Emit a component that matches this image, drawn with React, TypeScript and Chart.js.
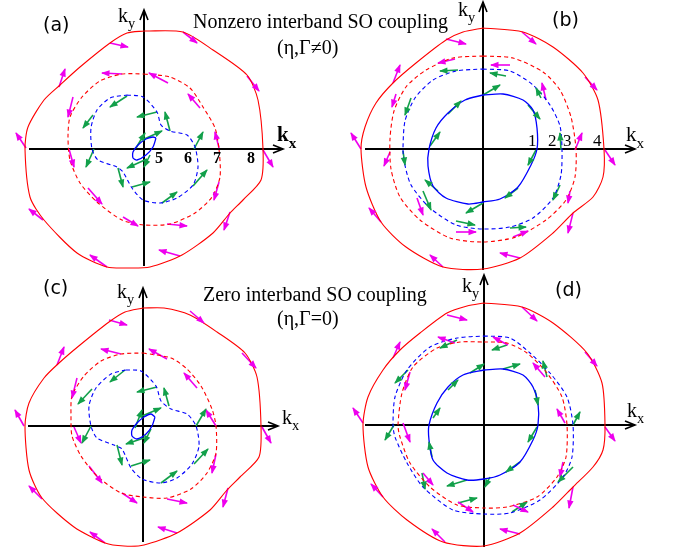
import React, { useEffect, useRef } from 'react';
import { Chart, registerables } from 'chart.js';
Chart.register(...registerables);

type P = [number, number];
type A = [number, number, number, number];

const W = 676;
const H = 553;
const PX_PER_UNIT = 100;

// ---------- Panel (a): nonzero interband SO coupling ----------
const aOuter: P[] = [[0,1.18],[0.39,1.17],[0.69,0.99],[1.03,0.74],[1.14,0.49],[1.19,0],[1.17,-0.31],[0.99,-0.51],[0.86,-0.64],[0.69,-0.84],[0.38,-1.06],[0.06,-1.18],[-0.17,-1.19],[-0.37,-1.18],[-0.67,-1.04],[-1.0,-0.71],[-1.14,-0.48],[-1.19,0],[-1.16,0.22],[-1.0,0.49],[-0.84,0.64],[-0.64,0.82],[-0.34,1.06],[-0.17,1.16]];
const aRedDash: P[] = [[0,0.75],[0.26,0.72],[0.46,0.61],[0.59,0.42],[0.71,0.21],[0.75,0],[0.76,-0.28],[0.68,-0.48],[0.51,-0.64],[0.26,-0.75],[0,-0.76],[-0.22,-0.71],[-0.47,-0.53],[-0.64,-0.34],[-0.74,-0.11],[-0.76,0.12],[-0.74,0.32],[-0.62,0.52],[-0.44,0.68],[-0.22,0.75]];
const aBlueDash: P[] = [[-0.17,0.54],[-0.01,0.52],[0.13,0.37],[0.17,0.24],[0.26,0.18],[0.43,0.14],[0.51,0.02],[0.54,-0.18],[0.49,-0.36],[0.33,-0.49],[0.16,-0.54],[-0.01,-0.51],[-0.12,-0.39],[-0.21,-0.23],[-0.27,-0.18],[-0.46,-0.11],[-0.52,0],[-0.53,0.21],[-0.47,0.39],[-0.34,0.51]];
const aBlueSolid: P[] = [[0.12,0.11],[0.09,0.02],[0.02,-0.06],[-0.07,-0.11],[-0.11,-0.09],[-0.11,-0.03],[-0.06,0.04],[0.02,0.1],[0.09,0.12]];
const aPink: A[] = [
  [-0.34,1.06,-0.16,1.02],[0.39,1.17,0.53,1.06],[1.03,0.73,1.15,0.58],[-0.85,0.62,-0.79,0.80],[-1.18,0.01,-1.28,0.16],
  [1.19,-0.01,1.29,-0.18],[0.86,-0.63,0.80,-0.81],[-1.01,-0.71,-1.15,-0.60],[-0.37,-1.18,-0.54,-1.06],[0.36,-1.07,0.15,-1.01],
  [-0.22,0.75,-0.42,0.76],[0.24,0.66,0.05,0.76],[0.56,0.41,0.44,0.55],[0.75,0.01,0.71,0.17],[0.75,-0.33,0.70,-0.51],
  [-0.71,0.52,-0.76,0.32],[-0.75,0,-0.70,-0.18],[-0.56,-0.39,-0.42,-0.55],[-0.21,-0.68,-0.06,-0.77],[0.23,-0.75,0.43,-0.77]];
const aGreen: A[] = [
  [-0.17,0.53,-0.34,0.42],[-0.51,0.34,-0.61,0.21],[-0.50,0,-0.58,-0.18],[-0.26,-0.19,-0.21,-0.38],[-0.12,-0.38,0.06,-0.33],
  [0.18,-0.54,0.33,-0.43],[0.49,-0.37,0.63,-0.21],[0.50,0,0.59,0.17],[0.26,0.18,0.21,0.37],[0.13,0.37,-0.07,0.32],
  [-0.02,0.09,0.18,0.18],[-0.08,0.01,0.01,0.16],[0.06,-0.06,0,-0.18],[0.03,-0.10,-0.17,-0.19]];

// ---------- Panel (b) ----------
const bOuter: P[] = [[0,1.21],[0.4,1.17],[0.7,1.02],[1.0,0.76],[1.15,0.49],[1.21,0],[1.2,-0.28],[1.1,-0.48],[0.9,-0.64],[0.7,-0.84],[0.37,-1.09],[0,-1.2],[-0.4,-1.18],[-0.77,-0.98],[-1.02,-0.73],[-1.17,-0.38],[-1.22,0],[-1.18,0.22],[-1.07,0.46],[-0.9,0.66],[-0.67,0.86],[-0.37,1.09],[-0.2,1.17]];
const bRedDash: P[] = [[0,0.93],[0.3,0.91],[0.6,0.77],[0.77,0.59],[0.88,0.32],[0.93,0],[0.92,-0.28],[0.83,-0.51],[0.63,-0.71],[0.33,-0.88],[0,-0.93],[-0.33,-0.89],[-0.63,-0.71],[-0.83,-0.48],[-0.92,-0.2],[-0.93,0.1],[-0.89,0.38],[-0.77,0.62],[-0.57,0.79],[-0.3,0.91]];
const bBlueDash: P[] = [[0,0.8],[0.27,0.78],[0.5,0.64],[0.67,0.44],[0.77,0.23],[0.79,0],[0.78,-0.26],[0.7,-0.49],[0.5,-0.69],[0.27,-0.78],[0,-0.8],[-0.27,-0.76],[-0.53,-0.59],[-0.72,-0.36],[-0.79,-0.12],[-0.8,0.01],[-0.78,0.28],[-0.68,0.51],[-0.5,0.69],[-0.27,0.78]];
const bBlueSolid: P[] = [[0,0.54],[0.2,0.55],[0.4,0.49],[0.5,0.39],[0.54,0.21],[0.54,0],[0.48,-0.16],[0.35,-0.38],[0.17,-0.5],[0,-0.53],[-0.15,-0.55],[-0.37,-0.49],[-0.5,-0.37],[-0.55,-0.17],[-0.54,0],[-0.47,0.21],[-0.35,0.36],[-0.18,0.49]];
const bPink: A[] = [
  [-0.37,1.10,-0.17,1.05],[0.39,1.17,0.53,1.05],[1.02,0.72,1.14,0.59],[-0.90,0.66,-0.83,0.84],[-1.22,0,-1.32,0.16],
  [1.22,-0.01,1.32,-0.16],[0.90,-0.64,0.85,-0.84],[-1.02,-0.73,-1.14,-0.59],[-0.40,-1.18,-0.53,-1.06],[0.37,-1.09,0.17,-1.04],
  [-0.28,0.90,-0.45,0.86],[0.27,0.84,0.08,0.84],[0.63,0.49,0.59,0.66],[0.92,-0.01,0.99,0.16],[0.87,-0.42,0.85,-0.54],
  [-0.87,0.55,-0.91,0.42],[-0.93,-0.03,-0.99,-0.17],[-0.66,-0.49,-0.60,-0.66],[-0.27,-0.83,-0.07,-0.83],[0.30,-0.88,0.45,-0.82]];
const bGreen: A[] = [
  [-0.25,0.79,-0.43,0.78],[0.23,0.73,0.07,0.76],[0.58,0.51,0.53,0.61],[0.78,-0.01,0.77,0.16],[0.77,-0.36,0.70,-0.51],
  [0.27,-0.79,0.43,-0.78],[-0.27,-0.72,-0.08,-0.76],[-0.60,-0.42,-0.52,-0.61],[-0.80,-0.02,-0.78,-0.16],[-0.72,0.51,-0.78,0.34],
  [0,0.54,0.17,0.64],[-0.35,0.35,-0.22,0.48],[-0.53,0.03,-0.43,0.17],[-0.45,-0.42,-0.58,-0.31],[0,-0.54,-0.17,-0.64],
  [0.35,-0.39,0.22,-0.49],[0.53,-0.01,0.45,-0.16],[0.45,0.44,0.57,0.30]];

// ---------- Panel (c): zero interband SO coupling ----------
const cOuter: P[] = [[0,1.18],[0.21,1.18],[0.47,1.11],[0.74,0.94],[1.02,0.73],[1.14,0.49],[1.18,0],[1.16,-0.31],[0.97,-0.51],[0.84,-0.64],[0.67,-0.84],[0.34,-1.07],[0.01,-1.19],[-0.19,-1.2],[-0.38,-1.17],[-0.69,-1.01],[-1.01,-0.72],[-1.14,-0.44],[-1.18,0],[-1.14,0.23],[-0.99,0.48],[-0.84,0.63],[-0.63,0.81],[-0.34,1.04],[-0.18,1.14]];
const cRedDash: P[] = [[0,0.73],[0.28,0.68],[0.44,0.57],[0.58,0.4],[0.69,0.17],[0.73,0],[0.73,-0.27],[0.64,-0.47],[0.48,-0.63],[0.24,-0.72],[0,-0.71],[-0.22,-0.67],[-0.46,-0.5],[-0.62,-0.3],[-0.71,-0.1],[-0.72,0.1],[-0.71,0.3],[-0.59,0.5],[-0.42,0.65],[-0.22,0.72]];
const cBlueDash: P[] = [[-0.17,0.56],[-0.02,0.55],[0.13,0.4],[0.18,0.25],[0.28,0.17],[0.44,0.12],[0.53,0],[0.56,-0.2],[0.49,-0.38],[0.34,-0.52],[0.18,-0.57],[-0.01,-0.53],[-0.12,-0.42],[-0.21,-0.23],[-0.29,-0.19],[-0.46,-0.12],[-0.52,0],[-0.54,0.2],[-0.47,0.38],[-0.32,0.52]];
const cBlueSolid: P[] = [[0.12,0.09],[0.09,0],[0.03,-0.08],[-0.06,-0.13],[-0.11,-0.1],[-0.11,-0.04],[-0.06,0.03],[0.01,0.09],[0.08,0.12]];
const cPink: A[] = [
  [-0.34,1.06,-0.16,1.01],[0.47,1.15,0.61,1.03],[0.99,0.73,1.13,0.58],[-0.86,0.61,-0.79,0.79],[-1.19,0,-1.28,0.16],
  [1.19,-0.01,1.28,-0.17],[0.85,-0.62,0.80,-0.81],[-1.01,-0.73,-1.14,-0.60],[-0.38,-1.17,-0.53,-1.06],[0.34,-1.07,0.15,-1.01],
  [-0.22,0.72,-0.42,0.77],[0.24,0.67,0.06,0.77],[0.54,0.38,0.41,0.53],[0.73,0,0.63,0.16],[0.73,-0.28,0.69,-0.47],
  [-0.66,0.48,-0.71,0.28],[-0.69,-0.01,-0.62,-0.17],[-0.54,-0.40,-0.41,-0.57],[-0.21,-0.67,-0.06,-0.77],[0.24,-0.73,0.44,-0.77]];
const cGreen: A[] = [
  [-0.18,0.56,-0.33,0.44],[-0.51,0.37,-0.65,0.22],[-0.52,0,-0.61,-0.17],[-0.26,-0.19,-0.21,-0.39],[-0.12,-0.40,0.07,-0.34],
  [0.18,-0.57,0.34,-0.45],[0.51,-0.38,0.65,-0.23],[0.53,0,0.63,0.17],[0.26,0.20,0.21,0.38],[0.14,0.39,-0.06,0.34],
  [-0.08,-0.02,-0.01,0.16],[-0.01,0.10,0.18,0.18],[0.08,-0.03,0.01,-0.17],[0.01,-0.12,-0.17,-0.18]];

// ---------- Panel (d) ----------
const dOuter: P[] = [[0,1.22],[0.38,1.18],[0.69,1.02],[1.03,0.72],[1.18,0.42],[1.21,0],[1.19,-0.25],[1.09,-0.42],[0.89,-0.62],[0.69,-0.82],[0.36,-1.08],[0,-1.21],[-0.41,-1.17],[-0.77,-0.95],[-1.01,-0.72],[-1.16,-0.42],[-1.21,0],[-1.16,0.28],[-1.01,0.55],[-0.84,0.75],[-0.64,0.92],[-0.37,1.12],[-0.17,1.19]];
const dRedDash: P[] = [[0,0.83],[0.23,0.82],[0.43,0.72],[0.63,0.52],[0.78,0.28],[0.83,0],[0.82,-0.32],[0.73,-0.52],[0.53,-0.72],[0.23,-0.82],[0,-0.83],[-0.27,-0.8],[-0.54,-0.62],[-0.74,-0.38],[-0.84,-0.12],[-0.86,0],[-0.82,0.32],[-0.71,0.58],[-0.47,0.77],[-0.24,0.83]];
const dBlueDash: P[] = [[0,0.89],[0.26,0.87],[0.46,0.72],[0.66,0.52],[0.83,0.28],[0.89,0],[0.88,-0.32],[0.79,-0.52],[0.56,-0.75],[0.26,-0.88],[0,-0.89],[-0.31,-0.85],[-0.61,-0.62],[-0.77,-0.38],[-0.89,-0.12],[-0.91,0],[-0.89,0.28],[-0.77,0.55],[-0.54,0.78],[-0.27,0.87]];
const dBlueSolid: P[] = [[0,0.55],[0.19,0.56],[0.39,0.5],[0.49,0.38],[0.54,0.22],[0.54,0],[0.49,-0.15],[0.36,-0.37],[0.16,-0.5],[0,-0.54],[-0.17,-0.55],[-0.37,-0.48],[-0.51,-0.35],[-0.55,-0.15],[-0.55,0],[-0.47,0.22],[-0.36,0.38],[-0.21,0.5]];
const dPink: A[] = [
  [-0.37,1.10,-0.17,1.05],[0.38,1.18,0.53,1.04],[1.01,0.73,1.13,0.59],[-0.91,0.67,-0.84,0.83],[-1.21,0.02,-1.31,0.17],
  [1.21,-0.02,1.31,-0.16],[0.89,-0.62,0.85,-0.83],[-1.01,-0.72,-1.13,-0.59],[-0.39,-1.17,-0.52,-1.04],[0.36,-1.09,0.16,-1.04],
  [-0.29,0.82,-0.46,0.88],[0.24,0.80,0.09,0.88],[0.61,0.48,0.49,0.62],[0.81,0.02,0.73,0.16],[0.79,-0.37,0.76,-0.52],
  [0.29,-0.80,0.44,-0.87],[-0.26,-0.77,-0.11,-0.87],[-0.61,-0.48,-0.51,-0.60],[-0.81,0.02,-0.74,-0.17],[-0.74,0.53,-0.79,0.35]];
const dGreen: A[] = [
  [-0.27,0.85,-0.44,0.77],[0.23,0.80,0.08,0.75],[0.63,0.48,0.59,0.64],[0.89,0,0.96,0.13],[0.89,-0.42,0.74,-0.57],
  [0.28,-0.87,0.43,-0.77],[-0.26,-0.78,-0.07,-0.73],[-0.62,-0.48,-0.59,-0.64],[-0.90,0,-0.99,-0.15],[-0.76,0.55,-0.89,0.42],
  [-0.14,0.52,0,0.61],[0.19,0.56,0.36,0.61],[0.51,0.35,0.54,0.20],[0.53,-0.02,0.44,-0.17],[0.36,-0.37,0.22,-0.47],
  [-0.17,-0.55,-0.37,-0.61],[0.06,-0.52,0.01,-0.62],[-0.52,-0.32,-0.55,-0.17],[-0.51,0.07,-0.44,0.17],[-0.36,0.35,-0.26,0.45]];

// ---------- text ----------
const titleLines = ['Nonzero interband SO coupling', '(η,Γ≠0)', 'Zero interband SO coupling', '(η,Γ=0)'];
const panelTags = ['(a)', '(b)', '(c)', '(d)'];
const aCurveLabels = ['5', '6', '7', '8'];
const bCurveLabels = ['1', '2', '3', '4'];

const RED = '#ff0000';
const BLUE = '#0000ff';
const PINK = '#ee00ee';
const GREEN = '#12a04a';

type PanelCfg = {
  origin: P;
  xAxis: P;
  yAxis: P;
  outer: P[]; redDash: P[]; blueDash: P[]; blueSolid: P[];
  pink: A[]; green: A[];
};

const panels: PanelCfg[] = [
  { origin: [144, 149], xAxis: [-1.15, 1.39], yAxis: [-1.17, 1.39], outer: aOuter, redDash: aRedDash, blueDash: aBlueDash, blueSolid: aBlueSolid, pink: aPink, green: aGreen },
  { origin: [483, 149], xAxis: [-1.18, 1.52], yAxis: [-1.21, 1.47], outer: bOuter, redDash: bRedDash, blueDash: bBlueDash, blueSolid: bBlueSolid, pink: bPink, green: bGreen },
  { origin: [143, 426], xAxis: [-1.15, 1.35], yAxis: [-1.16, 1.38], outer: cOuter, redDash: cRedDash, blueDash: cBlueDash, blueSolid: cBlueSolid, pink: cPink, green: cGreen },
  { origin: [484, 425], xAxis: [-1.19, 1.51], yAxis: [-1.22, 1.50], outer: dOuter, redDash: dRedDash, blueDash: dBlueDash, blueSolid: dBlueSolid, pink: dPink, green: dGreen },
];

const arrowPlugin = {
  id: 'arrowHeads',
  afterDatasetsDraw(chart: any) {
    const ctx = chart.ctx;
    chart.data.datasets.forEach((ds: any, i: number) => {
      if (!ds.arrowKind) return;
      const pts = chart.getDatasetMeta(i).data;
      if (pts.length < 2) return;
      const a = pts[pts.length - 2];
      const b = pts[pts.length - 1];
      const ang = Math.atan2(b.y - a.y, b.x - a.x);
      ctx.save();
      ctx.translate(b.x, b.y);
      ctx.rotate(ang);
      if (ds.arrowKind === 'solid') {
        ctx.beginPath();
        ctx.moveTo(1, 0);
        ctx.lineTo(-7.5, 3.2);
        ctx.lineTo(-7.5, -3.2);
        ctx.closePath();
        ctx.fillStyle = ds.borderColor;
        ctx.fill();
      } else {
        ctx.beginPath();
        ctx.moveTo(-10, 4);
        ctx.lineTo(0, 0);
        ctx.lineTo(-10, -4);
        ctx.strokeStyle = ds.borderColor;
        ctx.lineWidth = 1.6;
        ctx.stroke();
      }
      ctx.restore();
    });
  },
};

const toPts = (arr: P[], close: boolean) => {
  const pts = arr.map(([x, y]) => ({ x, y }));
  if (close) pts.push({ x: arr[0][0], y: arr[0][1] });
  return pts;
};

function Panel({ cfg }: { cfg: PanelCfg }) {
  const ref = useRef<HTMLCanvasElement>(null);
  useEffect(() => {
    if (!ref.current) return;
    const [ox, oy] = cfg.origin;
    const base = { showLine: true, pointRadius: 0, pointHoverRadius: 0, fill: false };
    const datasets: any[] = [];
    const curve = (pts: P[], color: string, width: number, dash: number[]) => ({
      ...base, data: toPts(pts, true), borderColor: color, borderWidth: width, borderDash: dash, tension: 0.25,
    });
    datasets.push(curve(cfg.outer, RED, 1.1, []));
    datasets.push(curve(cfg.redDash, RED, 1.1, [4, 3]));
    datasets.push(curve(cfg.blueDash, BLUE, 1.1, [4, 3]));
    datasets.push(curve(cfg.blueSolid, BLUE, 1.3, []));
    const arrows = (list: A[], color: string) => list.forEach(([x1, y1, x2, y2]) => datasets.push({
      ...base, data: [{ x: x1, y: y1 }, { x: x2, y: y2 }], borderColor: color, borderWidth: 1.6, tension: 0, arrowKind: 'solid',
    }));
    arrows(cfg.pink, PINK);
    arrows(cfg.green, GREEN);
    datasets.push({ ...base, data: [{ x: cfg.xAxis[0], y: 0 }, { x: cfg.xAxis[1], y: 0 }], borderColor: '#000', borderWidth: 2, arrowKind: 'open' });
    datasets.push({ ...base, data: [{ x: 0, y: cfg.yAxis[0] }, { x: 0, y: cfg.yAxis[1] }], borderColor: '#000', borderWidth: 2, arrowKind: 'open' });

    const chart = new Chart(ref.current, {
      type: 'scatter',
      data: { datasets },
      options: {
        animation: false,
        responsive: false,
        events: [],
        layout: { padding: 0 },
        plugins: { legend: { display: false }, tooltip: { enabled: false } },
        scales: {
          x: { type: 'linear', display: false, min: -ox / PX_PER_UNIT, max: (W - ox) / PX_PER_UNIT },
          y: { type: 'linear', display: false, min: -(H - oy) / PX_PER_UNIT, max: oy / PX_PER_UNIT },
        },
      },
      plugins: [arrowPlugin],
    } as any);
    return () => chart.destroy();
  }, [cfg]);
  return <canvas ref={ref} width={W} height={H} style={{ position: 'absolute', left: 0, top: 0 }} />;
}

const SERIF = '"Liberation Serif", "Times New Roman", serif';
const SANS = '"DejaVu Sans", sans-serif';

function T({ x, b, size, text, sub, bold, family }: { x: number; b: number; size: number; text: string; sub?: string; bold?: boolean; family?: string }) {
  return (
    <div style={{ position: 'absolute', left: x, top: b - 0.84 * size, fontSize: size, lineHeight: 1, fontFamily: family || SERIF, fontWeight: bold ? 'bold' : 'normal', whiteSpace: 'nowrap', color: '#000' }}>
      {text}
      {sub ? <span style={{ fontSize: size * 0.72, position: 'relative', top: size * 0.3 }}>{sub}</span> : null}
    </div>
  );
}

export default function App() {
  return (
    <div style={{ position: 'fixed', left: 0, top: 0, width: W, height: H, background: '#fff', overflow: 'hidden' }}>
      {panels.map((p, i) => <Panel key={i} cfg={p} />)}
      <T x={193} b={28} size={20} text={titleLines[0]} />
      <T x={277} b={54} size={20} text={titleLines[1]} />
      <T x={203} b={301} size={20} text={titleLines[2]} />
      <T x={277} b={325} size={20} text={titleLines[3]} />
      <T x={43} b={31} size={19} text={panelTags[0]} family={SANS} />
      <T x={552} b={26} size={19} text={panelTags[1]} family={SANS} />
      <T x={43} b={294} size={19} text={panelTags[2]} family={SANS} />
      <T x={555} b={296} size={19} text={panelTags[3]} family={SANS} />
      <T x={118} b={22} size={20} text="k" sub="y" />
      <T x={277} b={142} size={21} text="k" sub="x" bold />
      <T x={458} b={16} size={20} text="k" sub="y" />
      <T x={626} b={142} size={21} text="k" sub="x" />
      <T x={117} b={298} size={20} text="k" sub="y" />
      <T x={282} b={424} size={20} text="k" sub="x" />
      <T x={462} b={292} size={20} text="k" sub="y" />
      <T x={627} b={417} size={20} text="k" sub="x" />
      {aCurveLabels.map((t, i) => <T key={'a' + i} x={[155, 184, 213, 247][i]} b={163} size={16} text={t} bold />)}
      {bCurveLabels.map((t, i) => <T key={'b' + i} x={[528, 548, 563, 593][i]} b={146} size={17} text={t} />)}
    </div>
  );
}
